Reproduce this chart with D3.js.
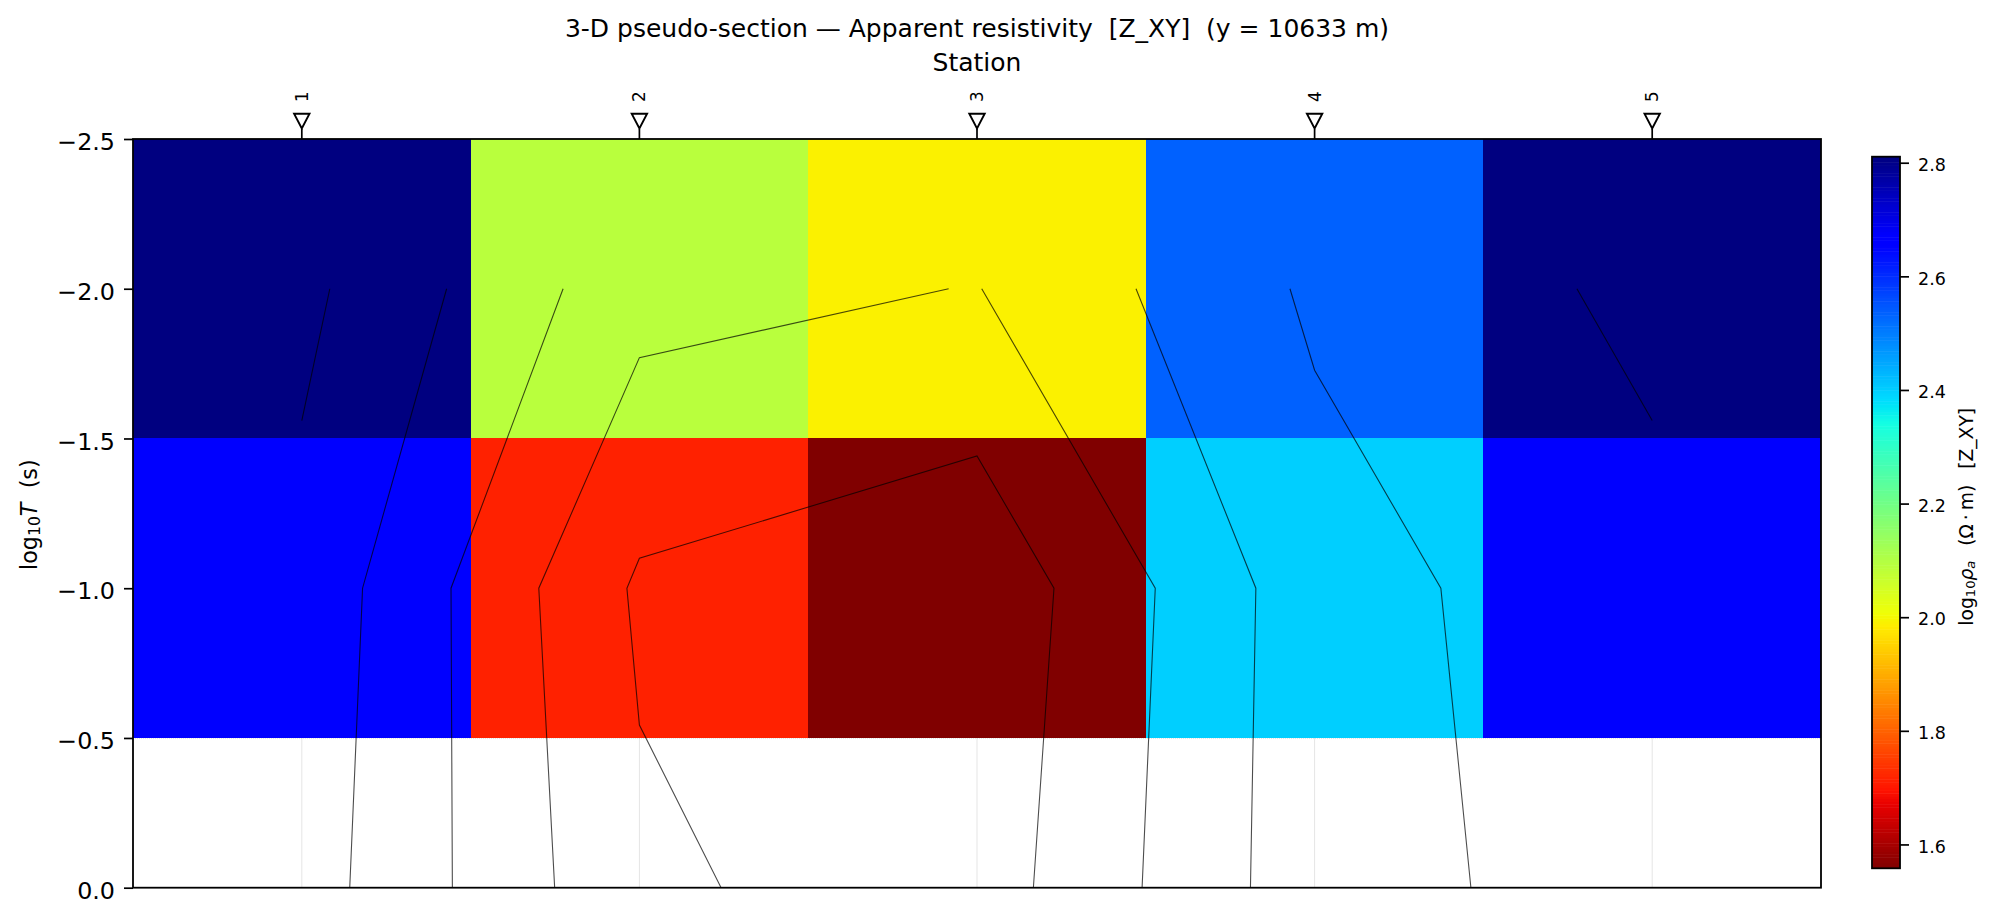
<!DOCTYPE html>
<html>
<head>
<meta charset="utf-8">
<script src="https://cdn.jsdelivr.net/npm/d3@7"></script>
<style>
  body { margin: 0; background: #fff; }
  svg { display: block; }
  text { font-family: "DejaVu Sans", sans-serif; fill: #000; white-space: pre; }
</style>
</head>
<body>
<svg id="section" width="1999" height="920"></svg>
<script>
// station numbers and the log10(T) edges of the two rows of cells
var stations   = [1, 2, 3, 4, 5];
var rowEdges   = [-2.5, -1.5, -0.5];
// log10 apparent resistivity, one list per row
var rhoShort   = [2.81, 2.09, 1.99, 2.535, 2.81];
var rhoLong    = [2.67, 1.715, 1.558, 2.40, 2.67];
var yTicks     = [-2.5, -2, -1.5, -1, -0.5, 0];
var colorTicks = [1.6, 1.8, 2.0, 2.2, 2.4, 2.6, 2.8];
var colorRange = [1.558, 2.8106];

// contour lines, x in station units and y in log10(T)
var contourX = [
  [1.083, 1.0],
  [1.429, 1.180, 1.142],
  [1.774, 1.442, 1.446],
  [2.916, 2.0, 1.702, 1.749],
  [2.242, 2.0, 1.963, 2.0, 3.0, 3.228, 3.167],
  [3.014, 3.528, 3.489],
  [3.471, 3.826, 3.810],
  [3.927, 4.0, 4.374, 4.463],
  [4.777, 5.0]
];
var contourY = [
  [-2, -1.56],
  [-2, -1, 0],
  [-2, -1, 0],
  [-2, -1.77, -1, 0],
  [0, -0.543, -1, -1.10, -1.442, -1, 0],
  [-2, -1, 0],
  [-2, -1, 0],
  [-2, -1.728, -1, 0],
  [-2, -1.56]
];

var svg = d3.select("#section");

var left = 133, right = 1821, top_ = 139, bottom = 887.7;
var x = d3.scaleLinear().domain([0.5, 5.5]).range([left, right]);
var y = d3.scaleLinear().domain([-2.5, 0]).range([top_, bottom]);

// matplotlib's jet, reversed below through the colour scale
var jetR = d3.scaleLinear().domain([0, 0.35, 0.66, 0.89, 1]).range([0, 0, 1, 1, 0.5]);
var jetG = d3.scaleLinear().domain([0, 0.125, 0.375, 0.64, 0.91, 1]).range([0, 0, 1, 1, 0, 0]);
var jetB = d3.scaleLinear().domain([0, 0.11, 0.34, 0.65, 1]).range([0.5, 1, 1, 0, 0]);
var toJet = d3.scaleLinear().domain([colorRange[1], colorRange[0]]).range([0, 1]).clamp(true);
function color(v) {
    var t = toJet(v);
    return d3.rgb(jetR(t) * 255, jetG(t) * 255, jetB(t) * 255).toString();
}

// Faint station lines, only seen below the cells
svg.append("g").selectAll("line")
    .data(stations).enter().append("line")
    .attr("x1", function(d) { return x(d); })
    .attr("x2", function(d) { return x(d); })
    .attr("y1", y(-2.5))
    .attr("y2", y(0))
    .attr("stroke", "#000")
    .attr("stroke-opacity", 0.12)
    .attr("stroke-width", 0.9);

// Cells
[rhoShort, rhoLong].forEach(function(row, r) {
    svg.append("g").selectAll("rect")
        .data(row).enter().append("rect")
        .attr("x", function(d, i) { return x(stations[i] - 0.5); })
        .attr("y", y(rowEdges[r]))
        .attr("width", x(1.5) - x(0.5))
        .attr("height", y(rowEdges[r + 1]) - y(rowEdges[r]))
        .attr("fill", function(d) { return color(d); })
        .attr("shape-rendering", "crispEdges");
});

// thin dotted edge left under the last row of cells
svg.append("line")
    .attr("x1", left).attr("x2", right)
    .attr("y1", y(-0.5) + 0.6).attr("y2", y(-0.5) + 0.6)
    .attr("stroke", "#000")
    .attr("stroke-opacity", 0.2)
    .attr("stroke-width", 0.6)
    .attr("stroke-dasharray", "1 1");

// Contours
var line = d3.line()
    .x(function(d) { return x(d[0]); })
    .y(function(d) { return y(d[1]); });
svg.append("g").selectAll("path")
    .data(contourX).enter().append("path")
    .attr("d", function(d, i) { return line(d3.zip(d, contourY[i])); })
    .attr("fill", "none")
    .attr("stroke", "#000")
    .attr("stroke-opacity", 0.7)
    .attr("stroke-width", 1.1);

// Frame
svg.append("rect")
    .attr("x", left).attr("y", top_)
    .attr("width", right - left).attr("height", bottom - top_)
    .attr("fill", "none")
    .attr("stroke", "#000")
    .attr("stroke-width", 1.8);

// Left axis
var yAxis = svg.append("g")
    .attr("transform", "translate(" + left + ",0)")
    .call(d3.axisLeft(y).tickValues(yTicks).tickSize(9).tickPadding(9).tickFormat(d3.format(".1f")));
yAxis.select(".domain").remove();
yAxis.selectAll("line").attr("stroke", "#000").attr("stroke-width", 1.7);
yAxis.selectAll("text").attr("font-size", 23.8).attr("fill", "#000").attr("dy", "0.45em");

// Station markers on the top edge
var marks = svg.append("g").selectAll("g")
    .data(stations).enter().append("g")
    .attr("transform", function(d) { return "translate(" + x(d) + "," + top_ + ")"; });
marks.append("line")
    .attr("y1", 0).attr("y2", -10)
    .attr("stroke", "#000").attr("stroke-width", 1.7);
marks.append("path")
    .attr("d", "M-7.7,-25.3 L7.7,-25.3 L0,-10.5 Z")
    .attr("fill", "#fff")
    .attr("stroke", "#000")
    .attr("stroke-width", 1.9);
marks.append("text")
    .attr("transform", "translate(6,-37) rotate(-90)")
    .attr("font-size", 16.8)
    .text(function(d) { return d; });

// Titles
svg.append("text")
    .attr("x", 977).attr("y", 36.5)
    .attr("text-anchor", "middle")
    .attr("font-size", 25)
    .text("3-D pseudo-section \u2014 Apparent resistivity  [Z_XY]  (y = 10633 m)");
svg.append("text")
    .attr("x", 977).attr("y", 70.5)
    .attr("text-anchor", "middle")
    .attr("font-size", 25)
    .text("Station");

// Left axis label
var yLabel = svg.append("text")
    .attr("transform", "translate(37,570) rotate(-90)")
    .attr("font-size", 22.3);
yLabel.append("tspan").text("log");
yLabel.append("tspan").attr("font-size", 15.6).attr("dy", 3.3).text("10");
yLabel.append("tspan").attr("font-style", "italic").attr("dy", -3.3).text("T");
yLabel.append("tspan").text("  (s)");

// Colour bar
var barLeft = 1872, barRight = 1900, barTop = 156.7, barBottom = 868.3;
var c = d3.scaleLinear().domain(colorRange).range([barBottom, barTop]);
var levels = d3.range(256);
var level = d3.scaleLinear().domain([0, 256]).range(colorRange);
svg.append("g").selectAll("rect")
    .data(levels).enter().append("rect")
    .attr("x", barLeft)
    .attr("y", function(d) { return c(level(d + 1)); })
    .attr("width", barRight - barLeft)
    .attr("height", function(d) { return c(level(d)) - c(level(d + 1)) + 0.5; })
    .attr("fill", function(d) { return color(level(d + 0.5)); });
svg.append("rect")
    .attr("x", barLeft).attr("y", barTop)
    .attr("width", barRight - barLeft).attr("height", barBottom - barTop)
    .attr("fill", "none")
    .attr("stroke", "#000")
    .attr("stroke-width", 1.8);

var cAxis = svg.append("g")
    .attr("transform", "translate(" + barRight + ",0)")
    .call(d3.axisRight(c).tickValues(colorTicks).tickSize(9).tickPadding(9).tickFormat(d3.format(".1f")));
cAxis.select(".domain").remove();
cAxis.selectAll("line").attr("stroke", "#000").attr("stroke-width", 1.7);
cAxis.selectAll("text").attr("font-size", 17.5).attr("fill", "#000").attr("dy", "0.44em");

var cLabel = svg.append("text")
    .attr("transform", "translate(1972.7,625.7) rotate(-90)")
    .attr("font-size", 18.7);
cLabel.append("tspan").text("log");
cLabel.append("tspan").attr("font-size", 13.1).attr("dy", 2.7).text("10");
cLabel.append("tspan").attr("font-style", "italic").attr("dy", -2.7).text("\u03c1");
cLabel.append("tspan").attr("font-style", "italic").attr("font-size", 13.1).attr("dy", 2.7).text("a");
cLabel.append("tspan").attr("dy", -2.7).attr("dx", 3).text("  (\u03a9");
cLabel.append("tspan").attr("dx", 4).text("\u00b7");
cLabel.append("tspan").attr("dx", 4).text("m)");
cLabel.append("tspan").attr("dx", 4).text("  [Z_XY]");
</script>
</body>
</html>
